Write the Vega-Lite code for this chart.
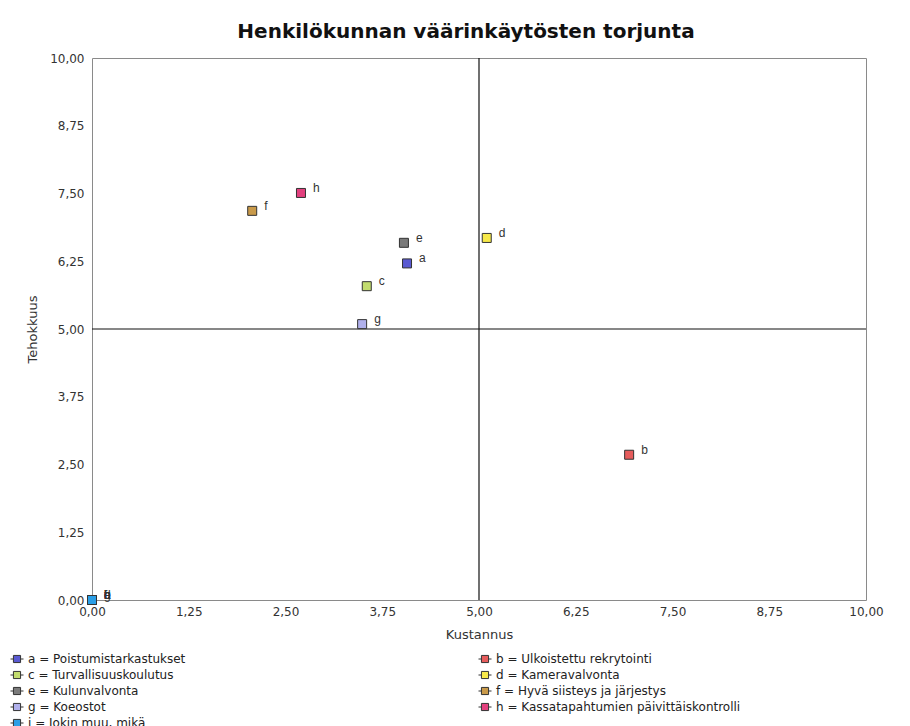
{
  "$schema": "https://vega.github.io/schema/vega-lite/v6.json",
  "width": 774,
  "height": 542,
  "autosize": {"type": "none"},
  "padding": {"left": 92, "top": 58, "right": 44, "bottom": 126},
  "background": "white",
  "title": {
    "text": "Henkilökunnan väärinkäytösten torjunta",
    "font": "DejaVu Sans",
    "fontSize": 20,
    "fontWeight": "bold",
    "color": "#111111",
    "anchor": "middle",
    "frame": "group",
    "offset": 10,
    "dx": -13
  },
  "config": {
    "view": {"stroke": "#8a8a8a", "strokeWidth": 1},
    "axis": {
      "domain": false,
      "ticks": false,
      "grid": false,
      "labelFont": "DejaVu Sans",
      "labelFontSize": 12,
      "labelColor": "#333333",
      "labelFlush": false,
      "labelOverlap": false,
      "titleFont": "DejaVu Sans",
      "titleFontSize": 13,
      "titleFontWeight": "normal",
      "titleColor": "#333333"
    }
  },
  "layer": [
    {
      "data": {"values": [{"raja": 5}]},
      "mark": {"type": "rule", "color": "#111111", "strokeWidth": 1.2},
      "encoding": {
        "x": {"field": "raja", "type": "quantitative", "scale": {"domain": [0, 10], "nice": false}}
      }
    },
    {
      "data": {"values": [{"raja": 5}]},
      "mark": {"type": "rule", "color": "#111111", "strokeWidth": 1.2},
      "encoding": {
        "y": {"field": "raja", "type": "quantitative", "scale": {"domain": [0, 10], "nice": false}}
      }
    },
    {
      "data": {
        "values": [
          {"id": "a", "selite": "a = Poistumistarkastukset", "kustannus": 0, "tehokkuus": 0},
          {"id": "b", "selite": "b = Ulkoistettu rekrytointi", "kustannus": 0, "tehokkuus": 0},
          {"id": "c", "selite": "c = Turvallisuuskoulutus", "kustannus": 0, "tehokkuus": 0},
          {"id": "d", "selite": "d = Kameravalvonta", "kustannus": 0, "tehokkuus": 0},
          {"id": "e", "selite": "e = Kulunvalvonta", "kustannus": 0, "tehokkuus": 0},
          {"id": "f", "selite": "f = Hyvä siisteys ja järjestys", "kustannus": 0, "tehokkuus": 0},
          {"id": "g", "selite": "g = Koeostot", "kustannus": 0, "tehokkuus": 0},
          {"id": "h", "selite": "h = Kassatapahtumien päivittäiskontrolli", "kustannus": 0, "tehokkuus": 0},
          {"id": "a", "selite": "a = Poistumistarkastukset", "kustannus": 4.07, "tehokkuus": 6.21},
          {"id": "b", "selite": "b = Ulkoistettu rekrytointi", "kustannus": 6.94, "tehokkuus": 2.68},
          {"id": "c", "selite": "c = Turvallisuuskoulutus", "kustannus": 3.55, "tehokkuus": 5.79},
          {"id": "d", "selite": "d = Kameravalvonta", "kustannus": 5.1, "tehokkuus": 6.68},
          {"id": "e", "selite": "e = Kulunvalvonta", "kustannus": 4.03, "tehokkuus": 6.59},
          {"id": "f", "selite": "f = Hyvä siisteys ja järjestys", "kustannus": 2.07, "tehokkuus": 7.18},
          {"id": "g", "selite": "g = Koeostot", "kustannus": 3.49, "tehokkuus": 5.09},
          {"id": "h", "selite": "h = Kassatapahtumien päivittäiskontrolli", "kustannus": 2.7, "tehokkuus": 7.51},
          {"id": "i", "selite": "i = Jokin muu, mikä", "kustannus": 0, "tehokkuus": 0}
        ]
      },
      "encoding": {
        "x": {
          "field": "kustannus",
          "type": "quantitative",
          "scale": {"domain": [0, 10], "nice": false},
          "axis": {
            "title": "Kustannus",
            "values": [0, 1.25, 2.5, 3.75, 5, 6.25, 7.5, 8.75, 10],
            "labelExpr": "replace(format(datum.value, '.2f'), '.', ',')",
            "labelPadding": 6,
            "titlePadding": 11
          }
        },
        "y": {
          "field": "tehokkuus",
          "type": "quantitative",
          "scale": {"domain": [0, 10], "nice": false},
          "axis": {
            "title": "Tehokkuus",
            "values": [0, 1.25, 2.5, 3.75, 5, 6.25, 7.5, 8.75, 10],
            "labelExpr": "replace(format(datum.value, '.2f'), '.', ',')",
            "labelPadding": 8,
            "titlePadding": 10
          }
        }
      },
      "layer": [
        {
          "mark": {"type": "square", "size": 81, "filled": true, "stroke": "#333333", "strokeWidth": 1, "opacity": 1},
          "encoding": {
            "color": {
              "field": "selite",
              "type": "nominal",
              "scale": {
                "domain": [
                  "a = Poistumistarkastukset",
                  "b = Ulkoistettu rekrytointi",
                  "c = Turvallisuuskoulutus",
                  "d = Kameravalvonta",
                  "e = Kulunvalvonta",
                  "f = Hyvä siisteys ja järjestys",
                  "g = Koeostot",
                  "h = Kassatapahtumien päivittäiskontrolli",
                  "i = Jokin muu, mikä"
                ],
                "range": ["#5a5ad2", "#e65c5c", "#c2dc6e", "#f7e94a", "#7a7a7a", "#c99a4a", "#b0b0ec", "#e2407e", "#2a9ee6"]
              },
              "legend": {
                "title": null,
                "orient": "none",
                "direction": "horizontal",
                "legendX": -82,
                "legendY": 594,
                "columns": 2,
                "columnPadding": 290,
                "rowPadding": 3,
                "symbolType": "M-1,0H-0.55M0.55,0H1M-0.55,-0.55H0.55V0.55H-0.55Z",
                "symbolSize": 169,
                "symbolStrokeColor": "#333333",
                "symbolStrokeWidth": 1,
                "labelFont": "DejaVu Sans",
                "labelFontSize": 12,
                "labelColor": "#222222",
                "labelLimit": 400,
                "labelOffset": 4
              }
            }
          }
        },
        {
          "mark": {"type": "text", "align": "left", "baseline": "middle", "dx": 12, "dy": -5, "font": "Liberation Sans", "fontSize": 12, "color": "#333333"},
          "encoding": {"text": {"field": "id"}}
        }
      ]
    }
  ]
}
